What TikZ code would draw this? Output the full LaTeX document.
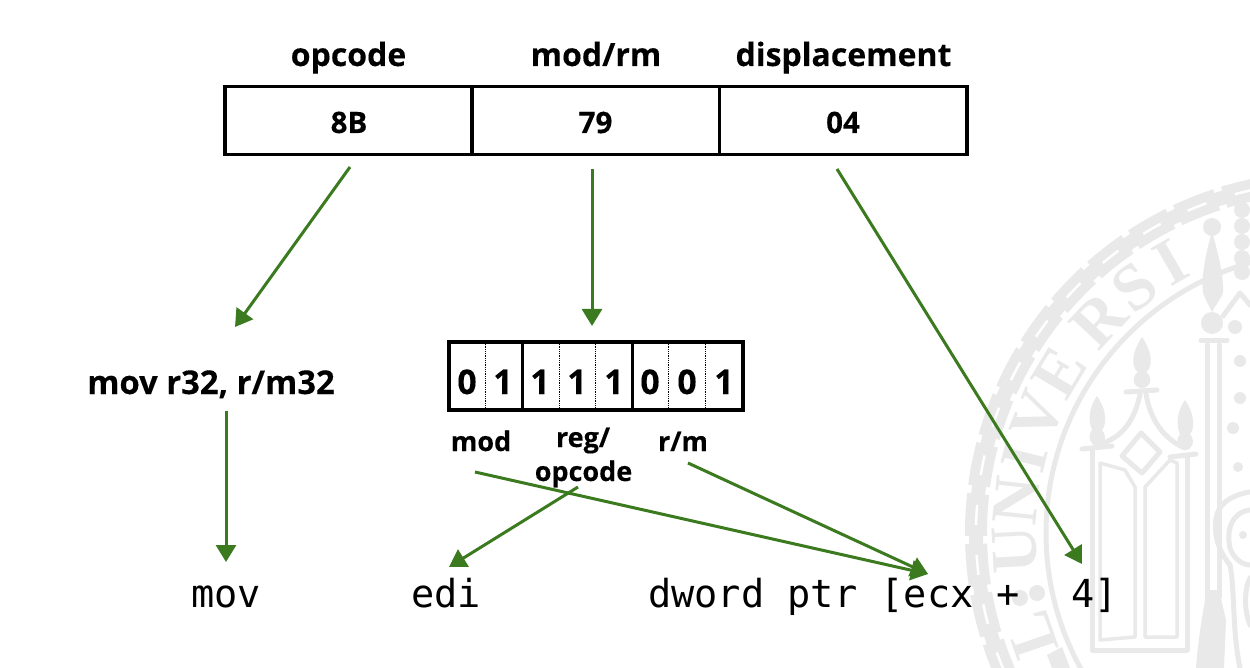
\documentclass[tikz,border=0pt]{standalone}
\usepackage{fontspec}
\setmainfont{Open Sans}[BoldFont={Open Sans Bold},BoldFeatures={FakeBold=0.25}]
\newfontfamily\codefont{DejaVu Sans Mono}
\newfontfamily\sealfont{Liberation Serif}
\usetikzlibrary{arrows.meta}
\definecolor{arrowgreen}{HTML}{3B7A1E}
\definecolor{sealgray}{HTML}{E9E9E9}
\tikzset{
  x=1pt,y=-1pt,
  frame/.style={draw=black,line width=3.5pt,fill=white,outer sep=0pt,inner sep=0pt,anchor=north west},
  thinsep/.style={draw=black,line width=0.8pt,densely dotted},
  thicksep/.style={draw=black,line width=3.5pt},
  head/.style={font=\fontsize{32}{34}\selectfont\bfseries,inner sep=0pt,anchor=base},
  cell/.style={font=\fontsize{29.5}{30}\selectfont\bfseries,inner sep=0pt,anchor=base},
  bit/.style={font=\fontsize{34}{36}\selectfont\bfseries,inner sep=0pt,anchor=base},
  small/.style={font=\fontsize{27}{35}\selectfont\bfseries,inner sep=0pt,anchor=base,align=center},
  code/.style={font=\fontsize{38.6}{41}\codefont,inner sep=0pt,anchor=base west},
  link/.style={draw=arrowgreen,line width=3pt,-{Triangle[length=17pt,width=20pt]}},
  seal/.style={draw=sealgray,line width=5pt,line cap=round,line join=round},
  sealthin/.style={draw=sealgray,line width=3.5pt,line cap=round,line join=round},
  sealletter/.style={font=\fontsize{66}{66}\sealfont\bfseries,text=sealgray,inner sep=0pt,anchor=center}
}
\begin{document}
\begin{tikzpicture}
\useasboundingbox (0,0) rectangle (1250,668);
\fill[white] (0,0) rectangle (1250,668);
% seal
\begin{scope}
\clip (0,0) rectangle (1250,668);
\coordinate (c) at (1327,533);
\draw[sealgray,line width=14pt] (c) circle[radius=351];
\draw[sealgray,line width=22pt,dash pattern=on 42pt off 8pt] (c) circle[radius=351];
\draw[white,line width=2.5pt,dash pattern=on 20pt off 30pt,dash phase=39pt] (c) circle[radius=351];
\draw[sealgray,line width=5pt] (c) circle[radius=281];
\foreach \a/\l in {183/U,174/N,166/I,158/V,149/E,137/R,128/S,120/I,199/L}{
  \node[sealletter,rotate={\a-90}] at ({1327+312*cos(\a)},{533-312*sin(\a)}) {\l};
}
\fill[sealgray] (1047,655) -- (1062,647) -- (1070,668) -- (1052,668) -- cycle;
\fill[sealgray] (1020,598) circle[radius=8] (1037,593) circle[radius=8];
% gate
\draw[seal] (1092,450) -- (1092,650) -- (1187,650) -- (1187,455);
\draw[sealthin] (1100,463) -- (1100,640) -- (1135,637) -- (1135,487) -- (1125,470) -- (1100,463);
\draw[sealthin] (1145,637) -- (1177,637) -- (1177,463) -- (1170,460) -- (1145,487) -- cycle;
\draw[seal] (1082,449) -- (1112,446) (1170,457) -- (1196,454);
\draw[seal] (1100,444) .. controls (1122,438) and (1135,420) .. (1140,394) (1185,448) .. controls (1165,440) and (1150,420) .. (1146,394);
\draw[seal] (1141,433) -- (1122,456) -- (1142,473) -- (1160,452) -- cycle;
\draw[seal] (1126,392) -- (1157,390);
\fill[sealgray] (1142,337) .. controls (1130,355) and (1132,368) .. (1138,372) .. controls (1130,378) and (1134,388) .. (1142,388) .. controls (1150,388) and (1154,378) .. (1146,372) .. controls (1152,368) and (1154,355) .. (1142,337);
\fill[sealgray] (1097,396) .. controls (1086,412) and (1090,425) .. (1092,430) .. controls (1086,438) and (1092,446) .. (1097,446) .. controls (1104,446) and (1108,438) .. (1102,430) .. controls (1106,425) and (1108,412) .. (1097,396);
\fill[sealgray] (1185,400) .. controls (1174,416) and (1178,430) .. (1180,434) .. controls (1174,442) and (1180,450) .. (1185,450) .. controls (1192,450) and (1196,442) .. (1190,434) .. controls (1194,430) and (1196,416) .. (1185,400);
% sceptre
\fill[sealgray] (1212,227) circle[radius=9];
\fill[sealgray] (1212,232) .. controls (1205,255) and (1201,280) .. (1203,292) .. controls (1205,300) and (1209,305) .. (1212,312) .. controls (1215,305) and (1221,300) .. (1223,292) .. controls (1224,280) and (1219,255) .. (1212,232);
\fill[sealgray] (1212,323) circle[radius=11];
\draw[seal] (1201,340) -- (1227,340);
\draw[seal] (1207,345) -- (1207,597) (1219,345) -- (1219,597);
\fill[sealgray] (1207,590) .. controls (1203,610) and (1198,640) .. (1196,668) -- (1224,668) -- (1226,620) -- (1219,590) -- cycle;
% right-hand ornaments
\foreach \y in {210,226,242,258,272}{\fill[sealgray] (1242,\y) circle[radius=8];}
\draw[seal] (1223,316) -- (1240,293) -- (1250,305);
\fill[sealgray] (1235,327) circle[radius=7] (1240,361) circle[radius=6] (1240,398) circle[radius=6] (1233,428) circle[radius=6] (1238,467) circle[radius=5];
\draw[seal] (1250,492) .. controls (1230,495) and (1218,505) .. (1216,518) .. controls (1213,540) and (1222,555) .. (1230,565) .. controls (1235,590) and (1232,630) .. (1240,668);
\draw[seal] (1250,510) .. controls (1232,512) and (1226,530) .. (1230,548) .. controls (1234,560) and (1244,565) .. (1250,565);
\fill[sealgray] (1243,535) circle[radius=4];
\draw[seal] (1250,578) .. controls (1244,590) and (1244,610) .. (1250,625);
\end{scope}
% top record
\node[frame,minimum width=247pt,minimum height=68pt] (op) at (225,86.5) {};
\node[frame,minimum width=247pt,minimum height=68pt] (mr) at (472.5,86.5) {};
\node[frame,minimum width=247.5pt,minimum height=68pt] (dp) at (719.5,86.5) {};
\node[cell] at (349,133) {8B};
\node[cell] at (595.5,133) {79};
\node[cell] at (843,133) {04};
\node[head] at (348.5,66) {opcode};
\node[head] at (596,66) {mod/rm};
\node[head] at (843.5,66) {displacement};
% bits
\node[frame,minimum width=294pt,minimum height=68pt] (bits) at (449,342) {};
\draw[thinsep] (485.5,342) -- (485.5,410) (559,342) -- (559,410) (595.5,342) -- (595.5,410) (668.5,342) -- (668.5,410) (705.5,342) -- (705.5,410);
\draw[thicksep] (522.5,342) -- (522.5,410) (632.5,342) -- (632.5,410);
\foreach \x/\b in {467/0,503/1,540/1,577/1,614/1,650/0,687/0,724/1}{\node[bit] at (\x,394) {\b};}
\node[small] (lmod) at (481,451) {mod};
\node[small] (lreg) at (583,447) {reg/};
\node[small] (lop) at (583.5,481) {opcode};
\node[small] (lrm) at (683,451) {r/m};
\node[font=\fontsize{32.8}{34}\selectfont\bfseries,inner sep=0pt,anchor=base] (ins) at (211,394) {mov r32, r/m32};
\node[code] (tmov) at (191,607) {mov};
\node[code] (tedi) at (411,607) {edi};
\node[code] (tptr) at (648,607) {dword ptr [ecx +\ \hspace{5pt}\ 4]};
% connector ends
\coordinate (s1) at (350,167); \coordinate (e1) at (235,327);
\coordinate (s2) at (592,169); \coordinate (e2) at (592,326);
\coordinate (s3) at (837,169); \coordinate (e3) at (1082,564);
\coordinate (s4) at (226,411); \coordinate (e4) at (226,562);
\coordinate (s5) at (475,472); \coordinate (e5) at (928,574);
\coordinate (s6) at (578,487); \coordinate (e6) at (449,567);
\coordinate (s7) at (688,463); \coordinate (e7) at (928,574);
\foreach \i in {1,...,7}{\draw[link] (s\i) -- (e\i);}
\end{tikzpicture}
\end{document}
